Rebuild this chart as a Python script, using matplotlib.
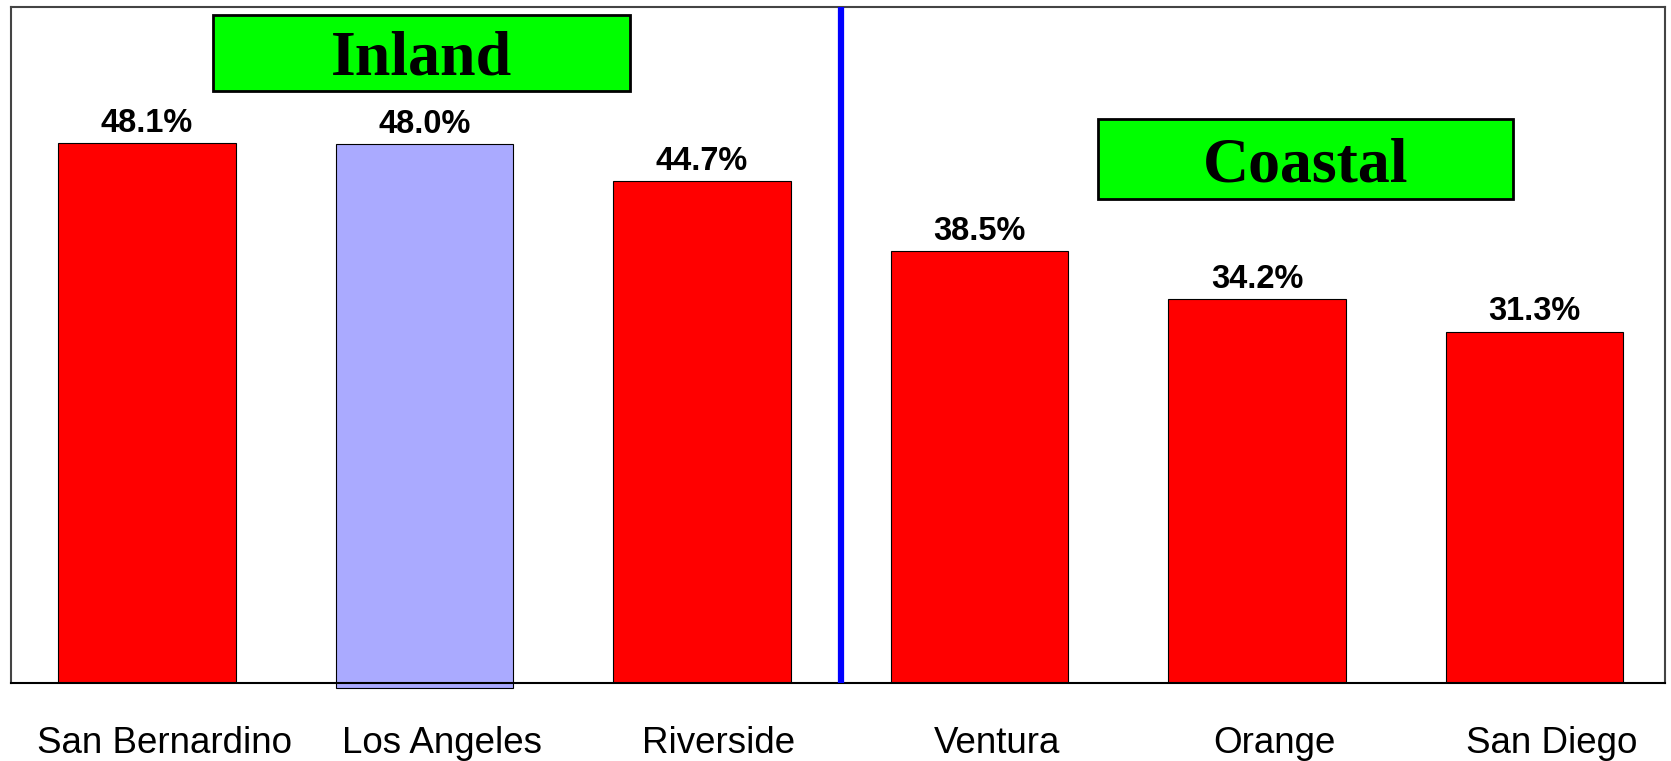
import matplotlib
matplotlib.use("Agg")
import matplotlib.pyplot as plt
import matplotlib.transforms as mtransforms
from matplotlib.patches import Rectangle

# data
counties = ["San Bernardino", "Los Angeles", "Riverside", "Ventura", "Orange", "San Diego"]
shares = [48.1, 48.0, 44.7, 38.5, 34.2, 31.3]
bar_colors = ["#FF0000", "#AAAAFF", "#FF0000", "#FF0000", "#FF0000", "#FF0000"]
value_labels = ["48.1%", "48.0%", "44.7%", "38.5%", "34.2%", "31.3%"]
divider_at = 2.5
group_names = ["Inland", "Coastal"]

fig = plt.figure(figsize=(16.71, 7.61), dpi=100, facecolor="white")
ax = fig.add_axes([0.0066, 0.1025, 0.9898, 0.8883])

x = list(range(len(counties)))
bars = ax.bar(x, shares, width=0.64, color=bar_colors,
              edgecolor="black", linewidth=0.8, zorder=2)
# the Los Angeles bar sits a touch lower than the others in the original
bars[1].set_y(-0.45)
bars[1].set_height(shares[1] + 0.45)
bars[1].set_clip_on(False)

for xi, val, lab in zip(x, shares, value_labels):
    ax.annotate(lab, (xi, val), xytext=(0, 3), textcoords="offset points",
                ha="center", va="bottom", fontsize=23.5, fontweight="bold",
                family="Liberation Sans")

ax.axvline(divider_at, color="#0000FF", lw=4.5, zorder=3)

ax.set_xlim(-0.49, 5.47)
ax.set_ylim(0, 60.2)
ax.set_yticks([])
ax.set_xticks(x)
ax.set_xticklabels(counties, fontsize=26.5, family="Liberation Sans")
ax.tick_params(axis="x", length=0, pad=31)
shift = mtransforms.ScaledTranslation(0.17, 0, fig.dpi_scale_trans)
for t in ax.get_xticklabels():
    t.set_transform(t.get_transform() + shift)

for side in ["top", "left", "right"]:
    ax.spines[side].set_color("#444444")
    ax.spines[side].set_linewidth(1.5)
ax.spines["bottom"].set_color("black")
ax.spines["bottom"].set_linewidth(1.5)

# group boxes
boxes = [(0.122, 0.876, 0.252, 0.112), (0.657, 0.716, 0.251, 0.118)]
for name, (bx, by, bw, bh) in zip(group_names, boxes):
    ax.add_patch(Rectangle((bx, by), bw, bh, transform=ax.transAxes,
                           facecolor="#00FF00", edgecolor="black",
                           linewidth=2, zorder=4))
    ax.text(bx + bw / 2, by + bh / 2, name, transform=ax.transAxes,
            ha="center", va="center_baseline", fontsize=46, fontweight="bold",
            family="Liberation Serif", zorder=5)

fig.savefig("out.png", dpi=100, facecolor="white")
